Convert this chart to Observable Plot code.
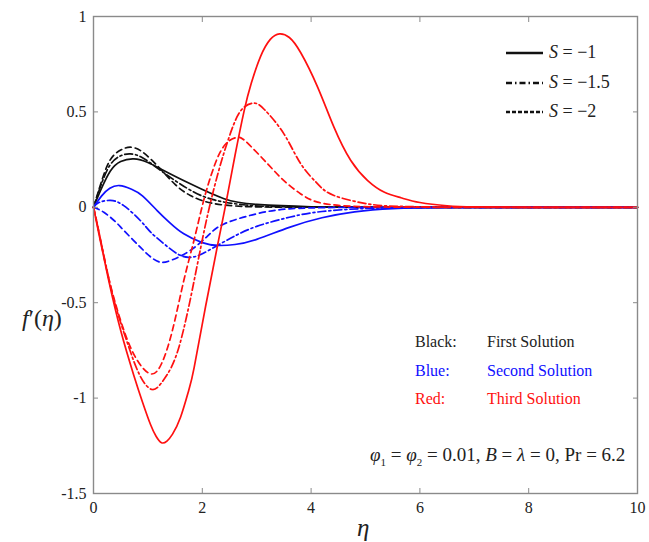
<!DOCTYPE html>
<html><head><meta charset="utf-8">
<script src="https://cdn.jsdelivr.net/npm/d3@7"></script>
<script src="https://cdn.jsdelivr.net/npm/@observablehq/plot@0.6"></script>
<style>
body{margin:0;background:#fff;}
#wrap{position:relative;width:649px;height:542px;font-family:"Liberation Serif","DejaVu Serif","Noto Serif","Tinos","FreeSerif","Times New Roman",Times,serif;color:#222;}
.lab{position:absolute;white-space:nowrap;line-height:1;}
.it{font-style:italic;}
</style></head><body><div id="wrap"></div>
<script>
// axis ticks
const xTicks = [0, 2, 4, 6, 8, 10];
const yTicks = [-1.5, -1, -0.5, 0, 0.5, 1];

// First solution (black)
const etaBlackS1 = [0, 0.13, 0.31, 0.5, 0.74, 1.0, 1.29, 1.78, 2.4, 3.0, 4.0, 5.0, 6.5, 8, 10];
const fBlackS1   = [0, 0.088, 0.19, 0.24, 0.254, 0.235, 0.193, 0.123, 0.045, 0.015, 0.003, 0.0005, 0, 0, 0];
const etaBlackS15 = [0, 0.13, 0.3, 0.5, 0.68, 0.9, 1.2, 1.5, 1.78, 2.2, 2.8, 3.5, 5, 6.5, 8, 10];
const fBlackS15   = [0, 0.11, 0.22, 0.27, 0.28, 0.26, 0.2, 0.14, 0.09, 0.04, 0.012, 0.003, 0.0003, 0, 0, 0];
const etaBlackS2 = [0, 0.13, 0.3, 0.5, 0.68, 0.9, 1.2, 1.5, 1.78, 2.2, 2.8, 3.5, 5, 6.5, 8, 10];
const fBlackS2   = [0, 0.12, 0.245, 0.30, 0.315, 0.29, 0.21, 0.12, 0.062, 0.02, 0.004, 0.001, 0.0001, 0, 0, 0];

// Second solution (blue)
const etaBlueS1 = [0, 0.15, 0.3, 0.48, 0.7, 0.9, 1.17, 1.4, 1.66, 2.0, 2.28, 2.6, 3.0, 3.6, 4.2, 4.8, 5.5, 6.5, 8, 10];
const fBlueS1   = [0, 0.06, 0.10, 0.114, 0.095, 0.06, -0.017, -0.08, -0.139, -0.185, -0.20, -0.195, -0.168, -0.105, -0.055, -0.024, -0.007, -0.001, 0, 0];
const etaBlueS15 = [0, 0.1, 0.31, 0.55, 0.86, 1.05, 1.29, 1.55, 1.75, 1.95, 2.28, 2.6, 3.0, 3.6, 4.2, 5.0, 6.0, 8, 10];
const fBlueS15   = [0, 0.025, 0.036, 0.01, -0.069, -0.13, -0.19, -0.245, -0.262, -0.25, -0.20, -0.15, -0.10, -0.052, -0.022, -0.006, -0.001, 0, 0];
const etaBlueS2 = [0, 0.19, 0.4, 0.56, 0.86, 1.05, 1.23, 1.45, 1.78, 2.1, 2.4, 3.0, 3.6, 4.5, 6, 8, 10];
const fBlueS2   = [0, -0.026, -0.075, -0.122, -0.209, -0.26, -0.288, -0.275, -0.226, -0.15, -0.087, -0.034, -0.008, -0.001, 0, 0, 0];

// Third solution (red)
const etaRedS1 = [0, 0.1, 0.28, 0.5, 0.74, 0.9, 1.05, 1.15, 1.25, 1.35, 1.45, 1.6, 1.75, 1.85, 2.06, 2.28, 2.42, 2.6, 2.77, 2.9, 3.07, 3.25, 3.42, 3.6, 3.81, 4.12, 4.42, 4.73, 5.04, 5.34, 5.65, 6.0, 6.5, 7, 8, 10];
const fRedS1   = [0, -0.14, -0.384, -0.646, -0.88, -1.02, -1.14, -1.2, -1.234, -1.225, -1.19, -1.1, -0.96, -0.84, -0.52, -0.2, 0, 0.27, 0.507, 0.65, 0.79, 0.88, 0.909, 0.89, 0.81, 0.63, 0.42, 0.245, 0.14, 0.08, 0.05, 0.025, 0.008, 0.002, 0, 0];
const etaRedS15 = [0, 0.1, 0.29, 0.45, 0.65, 0.85, 1.08, 1.3, 1.57, 1.85, 2.0, 2.13, 2.3, 2.46, 2.6, 2.75, 2.95, 3.15, 3.5, 3.81, 4.12, 4.42, 5.04, 5.6, 6.5, 8, 10];
const fRedS15   = [0, -0.13, -0.384, -0.56, -0.733, -0.88, -0.955, -0.9, -0.733, -0.384, -0.17, 0, 0.19, 0.34, 0.45, 0.52, 0.546, 0.51, 0.385, 0.228, 0.123, 0.062, 0.018, 0.005, 0.001, 0, 0];
const etaRedS2 = [0, 0.1, 0.29, 0.56, 0.8, 1.05, 1.25, 1.45, 1.66, 1.85, 2.02, 2.2, 2.35, 2.5, 2.64, 2.8, 3.2, 3.5, 3.81, 4.12, 4.6, 5.5, 7, 8, 10];
const fRedS2   = [0, -0.13, -0.384, -0.646, -0.80, -0.873, -0.82, -0.646, -0.384, -0.17, 0.03, 0.2, 0.3, 0.35, 0.367, 0.345, 0.228, 0.14, 0.07, 0.027, 0.008, 0.001, 0, 0, 0];

const blue = "#1010ff", red = "#ff1010";
const dashed = "6,4", dashDot = "8,3,2,3";
const series = [
  {eta: etaBlackS1, f: fBlackS1, color: "#111", dash: null},
  {eta: etaBlackS15, f: fBlackS15, color: "#111", dash: dashDot},
  {eta: etaBlackS2, f: fBlackS2, color: "#111", dash: dashed},
  {eta: etaBlueS1, f: fBlueS1, color: blue, dash: null},
  {eta: etaBlueS15, f: fBlueS15, color: blue, dash: dashDot},
  {eta: etaBlueS2, f: fBlueS2, color: blue, dash: dashed},
  {eta: etaRedS1, f: fRedS1, color: red, dash: null},
  {eta: etaRedS15, f: fRedS15, color: red, dash: dashDot},
  {eta: etaRedS2, f: fRedS2, color: red, dash: dashed}
];

const lineMarks = series.map(s => Plot.line(
  s.eta.map((e, i) => ({eta: e, f: s.f[i]})),
  {x: "eta", y: "f", curve: "natural", stroke: s.color, strokeWidth: 1.7,
   strokeDasharray: s.dash || undefined}
));

const serif = "'Liberation Serif','DejaVu Serif','Noto Serif',Tinos,FreeSerif,'Times New Roman',Times,serif";
const axisColor = "#8a8a8a";
const chart = Plot.plot({
  width: 649, height: 542,
  marginLeft: 93, marginRight: 12, marginTop: 16, marginBottom: 49,
  style: {fontFamily: serif, fontSize: "16px", color: "#222", background: "#fff"},
  x: {domain: [0, 10]},
  y: {domain: [-1.5, 1]},
  marks: [
    ...lineMarks,
    Plot.frame({stroke: axisColor, strokeWidth: 1.4}),
    Plot.axisX({ticks: xTicks, tickSize: -5, tickPadding: 13, tickFormat: d => String(d), stroke: axisColor, fill: "#222", label: null, fontFamily: serif}),
    Plot.axisX({anchor: "top", ticks: xTicks, tickSize: -5, tickFormat: () => "", stroke: axisColor, label: null}),
    Plot.axisY({ticks: yTicks, tickSize: -5, tickPadding: 12, tickFormat: d => String(d), stroke: axisColor, fill: "#222", label: null, fontFamily: serif}),
    Plot.axisY({anchor: "right", ticks: yTicks, tickSize: -5, tickFormat: () => "", stroke: axisColor, label: null})
  ]
});

const wrap = document.getElementById("wrap");
wrap.appendChild(chart);

function lab(html, left, top, size, color) {
  const d = document.createElement("div");
  d.className = "lab";
  d.innerHTML = html;
  d.style.left = left + "px";
  d.style.top = top + "px";
  d.style.fontSize = size + "px";
  d.style.color = color || "#222";
  wrap.appendChild(d);
  return d;
}

// axis titles
lab('<span class="it">f</span>′(<span class="it">η</span>)', 22, 306, 24);
lab('<span class="it">η</span>', 357, 515, 25);

// legend for S
const legendS = [
  {txt: '<span class="it">S</span> = −1', dash: null},
  {txt: '<span class="it">S</span> = −1.5', dash: "6,3,1.5,3"},
  {txt: '<span class="it">S</span> = −2', dash: "4,2"}
];
legendS.forEach((l, i) => {
  const y = 53 + i * 29.5;
  const svg = document.createElementNS("http://www.w3.org/2000/svg", "svg");
  svg.setAttribute("width", 38); svg.setAttribute("height", 6);
  svg.style.position = "absolute"; svg.style.left = "506px"; svg.style.top = (y - 3) + "px";
  const ln = document.createElementNS("http://www.w3.org/2000/svg", "line");
  ln.setAttribute("x1", 0); ln.setAttribute("x2", 37); ln.setAttribute("y1", 3); ln.setAttribute("y2", 3);
  ln.setAttribute("stroke", "#111"); ln.setAttribute("stroke-width", 2.6);
  if (l.dash) ln.setAttribute("stroke-dasharray", l.dash);
  svg.appendChild(ln);
  wrap.appendChild(svg);
  lab(l.txt, 549, y - 10, 18);
});

// solution colour key
const keyRows = [
  {a: "Black:", b: "First Solution", c: "#222"},
  {a: "Blue:", b: "Second Solution", c: blue},
  {a: "Red:", b: "Third Solution", c: red}
];
keyRows.forEach((r, i) => {
  const y = 334 + i * 28.5;
  lab(r.a, 415, y, 16, r.c);
  lab(r.b, 487, y, 16, r.c);
});

// parameters
lab('<span class="it">φ</span><sub style="font-size:11px">1</sub> = <span class="it">φ</span><sub style="font-size:11px">2</sub> = 0.01, <span class="it">B</span> = <span class="it">λ</span> = 0, Pr = 6.2', 370, 445, 19);
</script>
</body></html>
